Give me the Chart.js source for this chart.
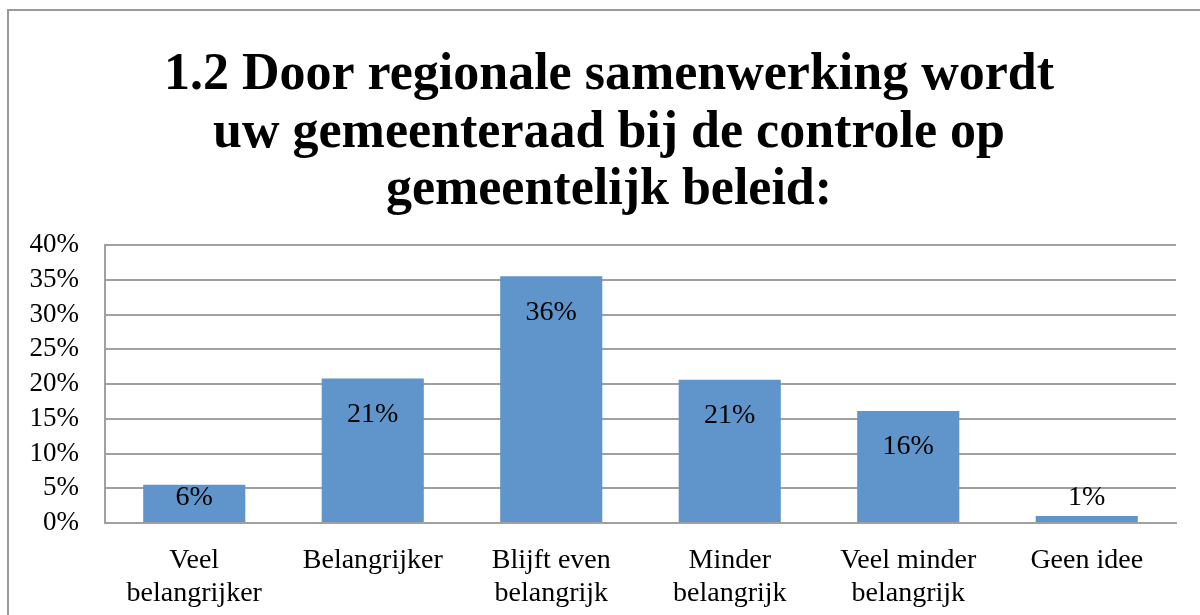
<!DOCTYPE html>
<html>
<head>
<meta charset="utf-8">
<script src="https://cdn.jsdelivr.net/npm/chart.js@4.4.1/dist/chart.umd.min.js"></script>
<style>
html,body{margin:0;padding:0;background:#fff;}
#wrap{position:relative;width:1200px;height:615px;}
</style>
</head>
<body>
<div id="wrap"><canvas id="c" width="1200" height="615"></canvas></div>
<script>
const titleLines = ['1.2 Door regionale samenwerking wordt', 'uw gemeenteraad bij de controle op', 'gemeentelijk beleid:'];
const categories = [['Veel','belangrijker'], 'Belangrijker', ['Blijft even','belangrijk'], ['Minder','belangrijk'], ['Veel minder','belangrijk'], 'Geen idee'];
const values = [5.5, 20.8, 35.5, 20.6, 16.1, 1.0];
const yTicks = [0, 5, 10, 15, 20, 25, 30, 35, 40];

const SERIF = '"Liberation Serif", "DejaVu Serif", serif';
const GRID = '#a0a0a0';

const frame = {
  id: 'frame',
  beforeDraw(chart) {
    const ctx = chart.ctx;
    ctx.save();
    ctx.fillStyle = '#fff';
    ctx.fillRect(0, 0, chart.width, chart.height);
    ctx.strokeStyle = '#9a9a9a';
    ctx.lineWidth = 2;
    ctx.beginPath();
    ctx.moveTo(8, chart.height);
    ctx.lineTo(8, 10);
    ctx.lineTo(chart.width, 10);
    ctx.stroke();
    // title
    ctx.fillStyle = '#000';
    ctx.font = 'bold 52px ' + SERIF;
    ctx.textAlign = 'center';
    ctx.textBaseline = 'middle';
    titleLines.forEach((t, i) => ctx.fillText(t, 609, 76 + i * 57.5));
    ctx.restore();
  }
};

const barLabels = {
  id: 'barLabels',
  afterDatasetsDraw(chart) {
    const ctx = chart.ctx;
    const meta = chart.getDatasetMeta(0);
    ctx.save();
    ctx.font = '28px ' + SERIF;
    ctx.fillStyle = '#000';
    ctx.textAlign = 'center';
    ctx.textBaseline = 'middle';
    meta.data.forEach((bar, i) => {
      const y = Math.min(bar.y + 36, bar.base - 24);
      ctx.fillText(Math.round(values[i]) + '%', bar.x, y);
    });
    ctx.restore();
  }
};

new Chart(document.getElementById('c'), {
  type: 'bar',
  data: {
    labels: categories,
    datasets: [{
      data: values,
      backgroundColor: '#5f95ca',
      borderWidth: 0,
      categoryPercentage: 1,
      barPercentage: 0.572
    }]
  },
  options: {
    responsive: false,
    animation: false,
    devicePixelRatio: 1,
    layout: { padding: { left: 18, right: 24, top: 245, bottom: 0 } },
    plugins: {
      legend: { display: false },
      tooltip: { enabled: false },
      title: { display: false }
    },
    scales: {
      x: {
        grid: { display: false, drawTicks: false },
        border: { display: true, color: GRID, width: 2 },
        ticks: {
          color: '#000',
          font: { family: SERIF, size: 28, lineHeight: 1.15 },
          padding: 22,
          maxRotation: 0,
          autoSkip: false
        },
        afterFit(scale) { scale.height = 92; }
      },
      y: {
        min: 0,
        max: 40,
        afterBuildTicks(scale) { scale.ticks = yTicks.map(v => ({ value: v })); },
        grid: { color: GRID, lineWidth: 2, drawTicks: false },
        border: { display: true, color: GRID, width: 2 },
        ticks: {
          color: '#000',
          font: { family: SERIF, size: 27 },
          padding: 26,
          autoSkip: false,
          callback: v => v + '%'
        },
        afterFit(scale) { scale.width = 87; }
      }
    }
  },
  plugins: [frame, barLabels]
});
</script>
</body>
</html>
